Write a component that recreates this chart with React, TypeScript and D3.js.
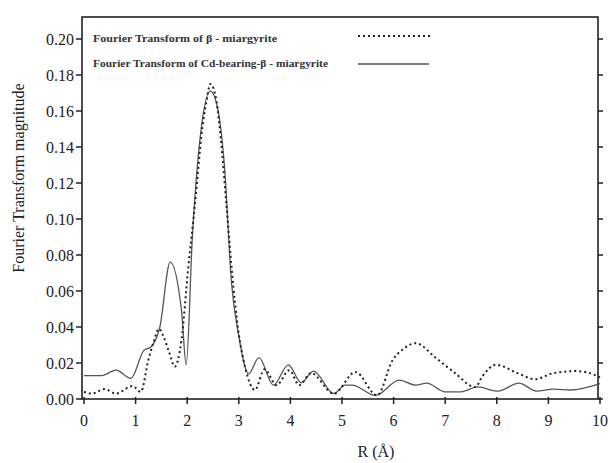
import React from "react";
import * as d3 from "d3";

const xTicks = [0, 1, 2, 3, 4, 5, 6, 7, 8, 9, 10];
const yTicks = [0, 0.02, 0.04, 0.06, 0.08, 0.1, 0.12, 0.14, 0.16, 0.18, 0.2];

const legendLabels = [
  "Fourier Transform of β - miargyrite",
  "Fourier Transform of Cd-bearing-β - miargyrite",
];

// β-miargyrite (dotted)
const betaR = [0, 0.15, 0.4, 0.62, 0.94, 1.1, 1.25, 1.35, 1.45, 1.55, 1.65, 1.76, 1.89, 2.02, 2.12, 2.18, 2.27, 2.37, 2.45, 2.57, 2.65, 2.76, 2.86, 3.0, 3.12, 3.31, 3.5, 3.73, 3.98, 4.17, 4.4, 4.84, 5.26, 5.68, 5.98, 6.2, 6.43, 6.81, 7.19, 7.58, 7.73, 7.98, 8.4, 8.74, 9.1, 9.53, 9.75, 10];
const betaV = [0.004, 0.003, 0.0055, 0.003, 0.0072, 0.004, 0.022, 0.0317, 0.039, 0.034, 0.026, 0.018, 0.033, 0.073, 0.1, 0.117, 0.145, 0.165, 0.175, 0.165, 0.145, 0.108, 0.073, 0.036, 0.018, 0.005, 0.0165, 0.0077, 0.016, 0.0077, 0.0144, 0.003, 0.015, 0.002, 0.0215, 0.028, 0.031, 0.023, 0.0144, 0.0066, 0.013, 0.019, 0.0144, 0.011, 0.0144, 0.0155, 0.0148, 0.012];

// Cd-bearing β-miargyrite (solid)
const cdR = [0, 0.34, 0.62, 0.91, 1.16, 1.3, 1.47, 1.67, 1.89, 1.98, 2.1, 2.25, 2.45, 2.6, 2.72, 2.86, 3.0, 3.19, 3.39, 3.67, 3.96, 4.21, 4.45, 4.84, 5.06, 5.19, 5.65, 6.11, 6.43, 6.64, 7.0, 7.3, 7.63, 8.02, 8.43, 8.77, 9.1, 9.43, 10];
const cdV = [0.013, 0.013, 0.016, 0.0115, 0.027, 0.029, 0.04, 0.076, 0.049, 0.019, 0.09, 0.145, 0.171, 0.16, 0.13, 0.064, 0.035, 0.014, 0.023, 0.0077, 0.019, 0.009, 0.0155, 0.003, 0.0077, 0.0077, 0.002, 0.0105, 0.0077, 0.0088, 0.004, 0.004, 0.0067, 0.0044, 0.0088, 0.0044, 0.0055, 0.005, 0.0085];

const W = 610;
const H = 463;
const left = 82;
const right = 598;
const top = 17;
const bottom = 399;

export default function App() {
  const x = d3.scaleLinear().domain([0, 10]).range([84, 600]);
  const y = d3.scaleLinear().domain([0, 0.2]).range([399, 39]);

  const line = d3
    .line<[number, number]>()
    .x((d) => x(d[0]))
    .y((d) => y(d[1]))
    .curve(d3.curveMonotoneX);

  const betaPath = line(betaR.map((r, i) => [r, betaV[i]]) as [number, number][]) || "";
  const cdPath = line(cdR.map((r, i) => [r, cdV[i]]) as [number, number][]) || "";

  const font = "'Liberation Serif', 'DejaVu Serif', serif";

  return (
    <svg
      width={W}
      height={H}
      style={{ position: "fixed", left: 0, top: 0, background: "#fff" }}
      fontFamily={font}
    >
      <rect x={0} y={0} width={W} height={H} fill="#fff" />
      {/* frame */}
      <rect
        x={left}
        y={top}
        width={right - left}
        height={bottom - top}
        fill="none"
        stroke="#222"
        strokeWidth={1.6}
      />
      {/* y ticks left & right */}
      {yTicks.map((t) => (
        <g key={"y" + t}>
          <line x1={left - 6} x2={left} y1={y(t)} y2={y(t)} stroke="#222" strokeWidth={1.5} />
          <line x1={right} x2={right + 5} y1={y(t)} y2={y(t)} stroke="#222" strokeWidth={1.5} />
          <text
            x={left - 8}
            y={y(t)}
            dy="0.35em"
            textAnchor="end"
            fontSize={16}
            fill="#222"
          >
            {t.toFixed(2)}
          </text>
        </g>
      ))}
      {/* x ticks */}
      {xTicks.map((t) => (
        <g key={"x" + t}>
          <line x1={x(t)} x2={x(t)} y1={bottom - 2} y2={bottom + 5} stroke="#222" strokeWidth={1.5} />
          <text x={x(t)} y={426} textAnchor="middle" fontSize={16} fill="#222">
            {t}
          </text>
        </g>
      ))}
      {/* axis labels */}
      <text
        transform={`translate(24,178) rotate(-90)`}
        textAnchor="middle"
        fontSize={16}
        fill="#222"
      >
        Fourier Transform magnitude
      </text>
      <text x={376} y={457} textAnchor="middle" fontSize={16} fill="#222">
        R (Å)
      </text>
      {/* curves */}
      <path d={cdPath} fill="none" stroke="#555" strokeWidth={1.3} />
      <path
        d={betaPath}
        fill="none"
        stroke="#222"
        strokeWidth={2}
        strokeDasharray="2 3"
      />
      {/* legend */}
      <text
        x={93}
        y={42}
        fontSize={11}
        fill="#333"
        fontWeight="bold"
        textLength={184}
        lengthAdjust="spacingAndGlyphs"
      >
        {legendLabels[0]}
      </text>
      <line x1={358} x2={431} y1={36} y2={36} stroke="#222" strokeWidth={1.8} strokeDasharray="2 3" />
      <text
        x={93}
        y={67}
        fontSize={11}
        fill="#333"
        fontWeight="bold"
        textLength={235}
        lengthAdjust="spacingAndGlyphs"
      >
        {legendLabels[1]}
      </text>
      <line x1={358} x2={429} y1={64} y2={64} stroke="#555" strokeWidth={1.3} />
    </svg>
  );
}
